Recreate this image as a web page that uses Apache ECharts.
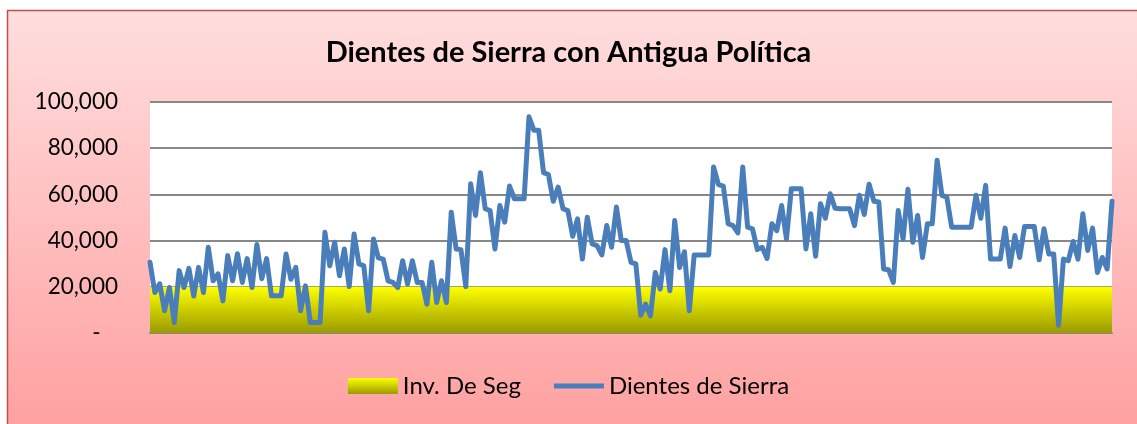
<!DOCTYPE html>
<html>
<head>
<meta charset="utf-8">
<script src="https://cdn.jsdelivr.net/npm/echarts@6/dist/echarts.min.js"></script>
<style>
  html, body { margin: 0; padding: 0; background: #fff; }
  #main { width: 1137px; height: 424px; }
</style>
</head>
<body>
<div id="main"></div>
<script>
// niveles de inventario (uno por periodo)
var dientes = [
  30600, 17500, 21300, 9600, 19700, 4500, 27000, 19700, 28000, 16000,
  28400, 17500, 37100, 22600, 25600, 13900, 33500, 22600, 34300, 21900,
  32200, 19700, 38300, 23500, 32200, 16100, 16100, 16100, 34200, 23300,
  28400, 9600, 20400, 4500, 4500, 4500, 43600, 29100, 39300, 24800,
  36400, 20100, 42900, 29900, 29100, 9600, 40700, 32500, 32000, 22600,
  21900, 19700, 31300, 21200, 31300, 21900, 21900, 12500, 30600, 13200,
  22600, 13200, 52300, 36400, 36100, 20100, 64600, 50900, 69400, 53800,
  53000, 36400, 55200, 48000, 63600, 58100, 58100, 58100, 93600, 87800,
  87800, 69400, 68600, 57000, 63200, 53800, 53000, 41900, 49400, 32000,
  50100, 38600, 37800, 33800, 46500, 37100, 54500, 40000, 40000, 30600,
  29900, 7700, 12500, 7400, 26200, 19000, 36100, 18300, 48700, 28400,
  35200, 9600, 33800, 33800, 33800, 33800, 71900, 64200, 63600, 47300,
  46500, 43300, 71900, 45800, 45100, 36100, 37100, 32300, 47300, 44300,
  55200, 40700, 62500, 62500, 62500, 36400, 51600, 33200, 56000, 49700,
  60300, 54000, 53800, 53800, 53800, 46500, 59600, 51300, 64400, 57000,
  56700, 27700, 27400, 21900, 53000, 40700, 62200, 39300, 50900, 32700,
  47300, 47300, 74800, 59600, 58800, 45800, 45800, 45800, 45800, 45800,
  59600, 49700, 63900, 32000, 32000, 32000, 45400, 28800, 42200, 32700,
  46100, 46100, 46100, 31700, 45100, 34200, 34200, 3300, 32000, 31300,
  39600, 32000, 51600, 35700, 45400, 26200, 32700, 27700, 57000
];
var invSeg = 20000;
var periodos = dientes.map(function (v, i) { return i + 1; });
var yTicks = [0, 20000, 40000, 60000, 80000, 100000];

var fuente = 'Lato, "Open Sans", sans-serif';
var amarillo = new echarts.graphic.LinearGradient(0, 0, 0, 1, [
  { offset: 0, color: '#ffff00' },
  { offset: 1, color: '#9a9a00' }
]);

var chart = echarts.init(document.getElementById('main'));
chart.setOption({
  animation: false,
  backgroundColor: '#ffffff',
  graphic: [{
    type: 'rect',
    z: -10,
    silent: true,
    shape: { x: 7.5, y: 10.5, width: 1140, height: 420 },
    style: {
      fill: new echarts.graphic.LinearGradient(0, 0, 0, 1, [
        { offset: 0, color: '#ffdede' },
        { offset: 1, color: '#ffa0a0' }
      ]),
      stroke: '#c0504d',
      lineWidth: 1.5
    }
  }],
  title: {
    text: 'Dientes de Sierra con Antigua Política',
    left: 'center',
    top: 33,
    textStyle: { fontFamily: fuente, fontSize: 29, fontWeight: 'bold', color: '#000' }
  },
  legend: {
    bottom: 21,
    left: 'center',
    itemWidth: 50,
    itemHeight: 16,
    itemGap: 33,
    symbolKeepAspect: true,
    textStyle: { fontFamily: fuente, fontSize: 24, color: '#000' },
    data: [
      { name: 'Inv. De Seg', icon: 'rect', itemStyle: { color: amarillo } },
      { name: 'Dientes de Sierra', icon: 'path://M0,0 L50,0 L50,5 L0,5 Z',
        itemStyle: { color: '#4a7ebb' } }
    ]
  },
  grid: {
    left: 150, right: 25, top: 102, bottom: 91,
    show: true, backgroundColor: '#ffffff', borderWidth: 0
  },
  xAxis: {
    type: 'category',
    data: periodos,
    boundaryGap: false,
    axisLine: { lineStyle: { color: '#888', width: 2 } },
    axisTick: { show: false },
    axisLabel: { show: false }
  },
  yAxis: {
    type: 'value',
    min: yTicks[0],
    max: yTicks[yTicks.length - 1],
    interval: yTicks[1] - yTicks[0],
    axisLine: { show: false },
    axisTick: { show: false },
    splitLine: { lineStyle: { color: '#888', width: 2 } },
    axisLabel: {
      fontFamily: fuente, fontSize: 22.5, color: '#000', margin: 32,
      formatter: function (v) {
        return v === 0 ? '-   ' : v.toLocaleString('en-US');
      }
    }
  },
  series: [
    {
      name: 'Inv. De Seg',
      type: 'line',
      data: periodos.map(function () { return invSeg; }),
      symbol: 'none',
      lineStyle: { width: 0 },
      itemStyle: { color: amarillo },
      areaStyle: { color: amarillo, opacity: 1 },
      z: 1
    },
    {
      name: 'Dientes de Sierra',
      type: 'line',
      data: dientes,
      symbol: 'none',
      itemStyle: { color: '#4a7ebb' },
      lineStyle: { color: '#4a7ebb', width: 5, join: 'round', cap: 'round' },
      z: 3
    }
  ]
});
</script>
</body>
</html>
